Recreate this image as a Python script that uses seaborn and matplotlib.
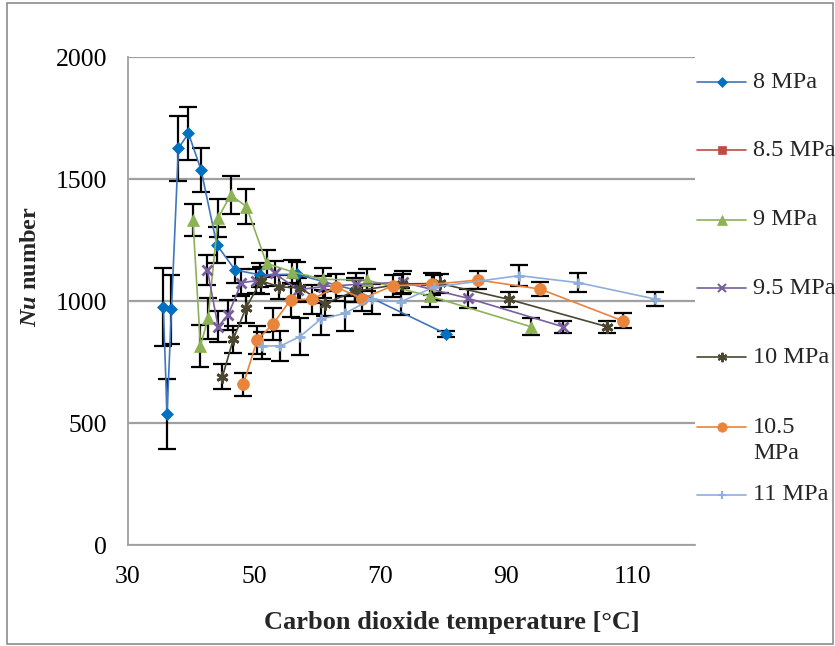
import matplotlib
matplotlib.use("Agg")
import matplotlib.pyplot as plt
import seaborn as sns
import pandas as pd
from matplotlib.lines import Line2D
from matplotlib.patches import Rectangle

# ---- data ----
series_names = ["8 MPa", "8.5 MPa", "9 MPa", "9.5 MPa", "10 MPa", "10.5 MPa", "11 MPa"]
legend_labels = ["8 MPa", "8.5 MPa", "9 MPa", "9.5 MPa", "10 MPa", "10.5\nMPa", "11 MPa"]

t8 = [35.6, 36.2, 36.9, 38.0, 39.6, 41.6, 44.1, 47.0, 51.0, 56.8, 66.0, 80.5]
nu8 = [977, 537, 966, 1626, 1687, 1537, 1230, 1127, 1107, 1109, 1045, 865]
e8 = [160, 145, 142, 133, 110, 90, 73, 55, 50, 50, 50, 12]

t85 = []
nu85 = []
e85 = []

t9 = [40.3, 41.5, 42.7, 44.3, 46.3, 48.8, 52.0, 56.0, 60.9, 67.9, 77.9, 93.9]
nu9 = [1332, 816, 929, 1341, 1434, 1387, 1154, 1120, 1089, 1086, 1020, 895]
e9 = [66, 85, 84, 79, 77, 70, 55, 50, 45, 45, 45, 35]

t95 = [42.6, 44.3, 45.9, 48.0, 50.3, 53.3, 57.0, 61.0, 66.2, 73.6, 84.0, 99.0]
nu95 = [1127, 895, 943, 1075, 1083, 1113, 1046, 1059, 1068, 1077, 1011, 895]
e95 = [60, 62, 60, 55, 50, 50, 50, 45, 45, 45, 40, 25]

t10 = [45.0, 46.7, 48.7, 51.1, 54.0, 57.3, 61.2, 66.0, 73.5, 79.5, 90.4, 106.0]
nu10 = [690, 843, 970, 1083, 1058, 1054, 989, 1040, 1070, 1072, 1007, 895]
e10 = [50, 55, 60, 55, 50, 50, 50, 45, 40, 40, 30, 25]

t105 = [48.3, 50.5, 53.0, 55.8, 59.2, 63.0, 67.2, 72.1, 78.2, 85.6, 95.4, 108.5]
nu105 = [658, 840, 905, 1004, 1007, 1057, 1010, 1063, 1068, 1086, 1049, 919]
e105 = [48, 58, 65, 70, 60, 55, 50, 45, 45, 35, 30, 30]

t11 = [51.2, 54.2, 57.3, 60.6, 64.4, 68.7, 73.3, 78.5, 92.1, 101.5, 113.7]
nu11 = [816, 816, 854, 926, 949, 1008, 997, 1056, 1104, 1075, 1008]
e11 = [55, 60, 75, 65, 72, 60, 55, 50, 43, 40, 30]

x_ticks = [30, 50, 70, 90, 110]
y_ticks = [0, 500, 1000, 1500, 2000]

# ---- styles ----
line_colors = ["#3F76BD", "#BE4B48", "#8DB255", "#7A5FA0", "#4A4630", "#E8843C", "#8FAEDB"]
marker_colors = ["#0070C0", "#BE4B48", "#8DB255", "#7A5FA0", "#4A4630", "#E8843C", "#8FAEDB"]
markers = ["D", "s", "^", "x", (6, 2, 0), "o", "+"]
msizes = [6.5, 6.5, 8.5, 7.5, 8.5, 8.5, 7.5]

sns.set_theme(style="white")
plt.rcParams["font.family"] = ["Liberation Serif", "DejaVu Serif"]
plt.rcParams["mathtext.fontset"] = "custom"
plt.rcParams["mathtext.rm"] = "Liberation Serif"
plt.rcParams["mathtext.it"] = "Liberation Serif:italic"
plt.rcParams["mathtext.bf"] = "Liberation Serif:bold"
try:
    plt.rcParams["mathtext.bfit"] = "Liberation Serif:italic:bold"
    ylab = r"$\mathbfit{Nu}$ number"
except Exception:
    ylab = "Nu number"

fig = plt.figure(figsize=(8.35, 6.46), dpi=100)
ax = fig.add_axes([128 / 835, 1 - 545 / 646, (695 - 128) / 835, (545 - 57) / 646])

all_t = [t8, t85, t9, t95, t10, t105, t11]
all_nu = [nu8, nu85, nu9, nu95, nu10, nu105, nu11]
all_e = [e8, e85, e9, e95, e10, e105, e11]

for i, name in enumerate(series_names):
    if len(all_t[i]) == 0:
        continue
    df = pd.DataFrame({"T": all_t[i], "Nu": all_nu[i]})
    ax.errorbar(all_t[i], all_nu[i], yerr=all_e[i], fmt="none", ecolor="black",
                elinewidth=1.6, capsize=6.5, capthick=1.6, zorder=2)
    mk = markers[i]
    lw_m = 2.0 if mk in ("x", "+") or isinstance(mk, tuple) else 0.5
    sns.lineplot(data=df, x="T", y="Nu", ax=ax, sort=False, estimator=None,
                 color=line_colors[i], linewidth=1.2, marker=mk, markersize=msizes[i],
                 markerfacecolor=marker_colors[i], markeredgecolor=marker_colors[i],
                 markeredgewidth=lw_m, zorder=3)

ax.set_xlim(30, 120)
ax.set_ylim(0, 2000)
ax.set_xticks(x_ticks)
ax.set_yticks(y_ticks)
ax.tick_params(axis="both", labelsize=18.5, colors="black", direction="out", length=6,
               width=1.2, color="#A0A0A0")
ax.tick_params(axis="x", pad=9)
ax.tick_params(axis="y", pad=9)
ax.yaxis.grid(True, color="#A0A0A0", linewidth=1.6)
ax.xaxis.grid(False)
for s in ["top", "right"]:
    ax.spines[s].set_visible(False)
for s in ["left", "bottom"]:
    ax.spines[s].set_color("#A0A0A0")
    ax.spines[s].set_linewidth(1.3)
ax.set_axisbelow(True)
ax.set_xlabel("")
ax.set_ylabel("")

fig.text(452 / 835, 1 - 622 / 646, "Carbon dioxide temperature [°C]", ha="center", va="center",
         fontsize=19, fontweight="bold")
fig.text(31 / 835, 1 - 267 / 646, ylab, ha="center", va="center", rotation=90,
         fontsize=17.5, fontweight="bold")

# ---- legend (manual, Excel-like) ----
leg_y = [82, 150, 220, 288, 357, 427, 495]
for i, name in enumerate(legend_labels):
    yy = 1 - leg_y[i] / 646
    mk = markers[i]
    lw_m = 1.5 if mk in ("x", "+") or isinstance(mk, tuple) else 0.5
    fig.add_artist(Line2D([697 / 835, 746 / 835], [yy, yy], color=line_colors[i], linewidth=1.2))
    fig.add_artist(Line2D([721.5 / 835], [yy], marker=mk, markersize=msizes[i] * 0.8,
                          color=marker_colors[i], markerfacecolor=marker_colors[i],
                          markeredgecolor=marker_colors[i], markeredgewidth=lw_m, linestyle="none"))
    if "\n" in name:
        fig.text(753 / 835, 1 - (leg_y[i] - 10) / 646, name, ha="left", va="top",
                 fontsize=17.5, linespacing=1.3)
    else:
        fig.text(753 / 835, yy, name, ha="left", va="center", fontsize=17.5)

fig.add_artist(Rectangle((7 / 835, 2 / 646), 826 / 835, 641 / 646, transform=fig.transFigure,
                         fill=False, edgecolor="#8C8C8C", linewidth=1.2))

fig.savefig("out.png", dpi=100)
